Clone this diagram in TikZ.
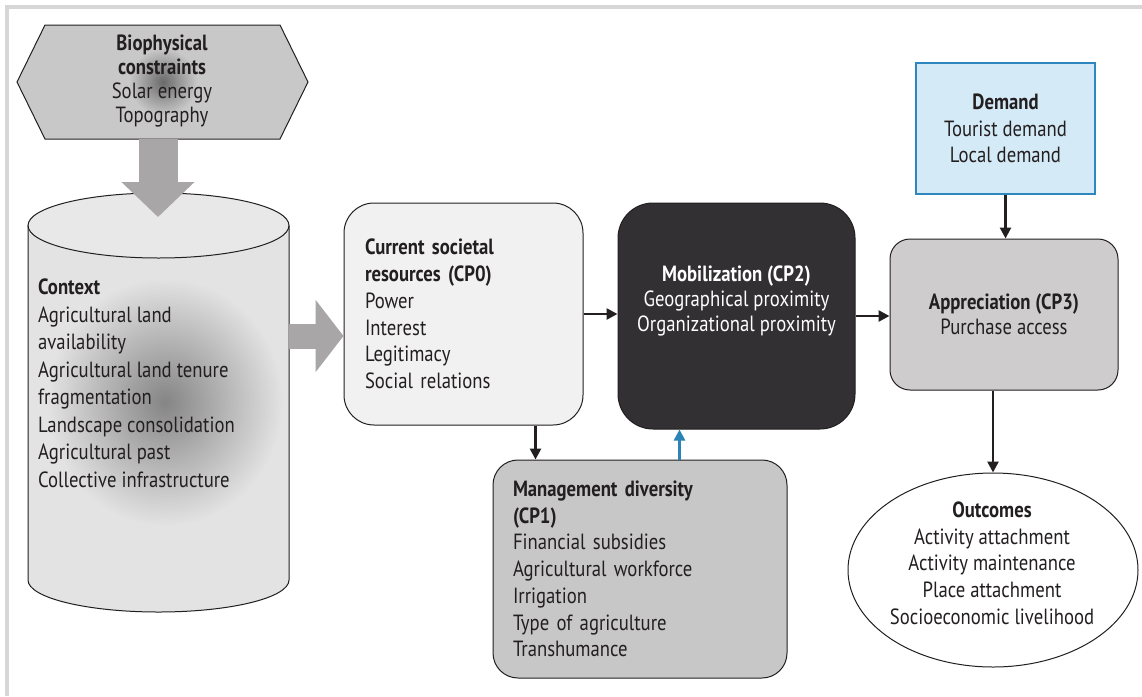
\documentclass[tikz,border=0pt]{standalone}
\usepackage{fontspec}
\setmainfont{PT Sans}[FakeStretch=0.85]
\usetikzlibrary{arrows.meta,shapes.geometric,calc}
\definecolor{framegray}{HTML}{D6D6D6}
\definecolor{hexfill}{HTML}{C9C8C9}
\definecolor{hexdark}{HTML}{6A6A6A}
\definecolor{blockarrow}{HTML}{A8A6A7}
\definecolor{cylfill}{HTML}{E3E3E3}
\definecolor{cyltop}{HTML}{E8E8E8}
\definecolor{cyldark}{HTML}{858585}
\definecolor{cpzero}{HTML}{F1F1F2}
\definecolor{mobfill}{HTML}{323032}
\definecolor{mgmtfill}{HTML}{C7C7C8}
\definecolor{appfill}{HTML}{CECCCD}
\definecolor{demfill}{HTML}{D4EAF7}
\definecolor{demline}{HTML}{2E87BE}
\definecolor{bluearrow}{HTML}{2B83B6}
\definecolor{ink}{HTML}{231F20}
\tikzset{
  txt/.style={font=\fontsize{22}{26.7}\selectfont, text=ink},
  boxnode/.style={txt, draw=ink, line width=1pt, align=left, inner ysep=0pt},
  arr/.style={draw=ink, line width=2.6pt, -{Triangle[length=11pt,width=11pt]}},
  bluearr/.style={draw=bluearrow, line width=2.6pt, -{Triangle[length=11pt,width=11pt]}},
  bigarrow/.style={draw=blockarrow},
}
\begin{document}
\begin{tikzpicture}[x=1pt,y=-1pt]
\useasboundingbox (0,0) rectangle (1142,696);
\fill[white] (0,0) rectangle (1142,696);
% frame
\draw[framegray, line width=4pt] (7,696) -- (7,7) -- (1142,7);

% hexagon
\fill[hexfill] (17,82) -- (45,25) -- (280,25) -- (308,82) -- (280,139) -- (45,139) -- cycle;
\begin{scope}
  \clip (17,82) -- (45,25) -- (280,25) -- (308,82) -- (280,139) -- (45,139) -- cycle;
  \shade[inner color=hexdark, outer color=hexfill] (163,82) circle (34pt);
\end{scope}
\draw[ink, line width=1pt] (17,82) -- (45,25) -- (280,25) -- (308,82) -- (280,139) -- (45,139) -- cycle;
\node[txt, align=center, font=\fontsize{22}{24}\selectfont, inner sep=0pt] (hex) at (162,81)
  {\textbf{Biophysical}\\\textbf{constraints}\\Solar energy\\Topography};
\coordinate (hexbot) at (158,139);

% cylinder
\fill[cylfill] (28,225.5) -- (28,580) arc[start angle=180, end angle=360, x radius=130.5pt, y radius=32pt]
   -- (289,225.5) arc[start angle=0, end angle=180, x radius=130.5pt, y radius=32.5pt] -- cycle;
\begin{scope}
  \clip (28,225.5) -- (28,580) arc[start angle=180, end angle=360, x radius=130.5pt, y radius=32pt]
   -- (289,225.5) -- cycle;
  \shade[inner color=cyldark, outer color=cylfill] (165,402) ellipse [x radius=118pt, y radius=124pt];
\end{scope}
\fill[cyltop] (158.5,225.5) ellipse [x radius=130.5pt, y radius=32.5pt];
\draw[ink, line width=1pt] (28,225.5) -- (28,580) arc[start angle=180, end angle=360, x radius=130.5pt, y radius=32pt]
   -- (289,225.5);
\draw[ink, line width=1pt] (158.5,225.5) ellipse [x radius=130.5pt, y radius=32.5pt];
\node[txt, align=left, anchor=north west, inner sep=0pt, font=\fontsize{22}{27.5}\selectfont] (ctx) at (38,279)
  {\textbf{Context}\\Agricultural land\\availability\\Agricultural land tenure\\fragmentation\\Landscape consolidation\\Agricultural past\\Collective infrastructure};
\coordinate (cyltip) at (158,217);
\coordinate (cylright) at (289,336);

% big block arrows
\draw[bigarrow, line width=39pt, -{Triangle[width=71pt,length=35pt]}] (hexbot) -- (cyltip);

% CP0
\node[boxnode, fill=cpzero, rounded corners=30pt, minimum width=239pt, minimum height=222pt,
      inner xsep=21pt, text width=197pt] (cp0) at (463.5,314)
  {\textbf{Current societal}\\\textbf{resources (CP0)}\\Power\\Interest\\Legitimacy\\Social relations};
\draw[bigarrow, line width=25pt, -{Triangle[width=71pt,length=28pt]}] (cylright) -- (cylright -| cp0.west);

% Mobilization
\node[draw=ink, line width=1pt, fill=mobfill, rounded corners=35pt, minimum width=237pt, minimum height=226pt] (mob) at (736.5,316) {};
\node[txt, text=white, align=center, inner sep=0pt, font=\fontsize{22}{25}\selectfont] (mobtext) at (736.5,301)
  {\textbf{Mobilization (CP2)}\\Geographical proximity\\Organizational proximity};

% Management
\node[boxnode, fill=mgmtfill, rounded corners=25pt, minimum width=294pt, minimum height=218pt,
      inner xsep=20pt, text width=254pt] (mgmt) at (640,569)
  {\textbf{Management diversity}\\\textbf{(CP1)}\\Financial subsidies\\Agricultural workforce\\Irrigation\\Type of agriculture\\Transhumance};

% Demand
\node[txt, draw=demline, line width=1.2pt, fill=demfill, align=center, minimum width=179pt, minimum height=131pt] (dem) at (1005.5,128.5)
  {\textbf{Demand}\\Tourist demand\\Local demand};

% Appreciation
\node[boxnode, fill=appfill, rounded corners=20pt, align=center, minimum width=228pt, minimum height=151pt,
      font=\fontsize{22}{25}\selectfont] (app) at (1004,314.5)
  {\textbf{Appreciation (CP3)}\\Purchase access};

% Outcomes
\node[draw=ink, line width=1pt, fill=white, ellipse, inner sep=0pt, minimum width=290pt, minimum height=194pt] (out) at (993,570) {};
\node[txt, align=center, inner sep=0pt] (outtext) at (992,563)
  {\textbf{Outcomes}\\Activity attachment\\Activity maintenance\\Place attachment\\Socioeconomic livelihood};

% connectors
\draw[arr] (cp0.east) -- (cp0.east -| mob.west);
\draw[arr] (mob.east) -- (mob.east -| app.west);
\draw[arr] ([xshift=-48pt]cp0.south east) -- ([xshift=-48pt]cp0.south east |- mgmt.north);
\draw[bluearr] ([xshift=62pt]mob.south west |- mgmt.north) -- ([xshift=62pt]mob.south west);
\draw[arr] (dem.south) -- (dem.south |- app.north);
\draw[arr] (out.north |- app.south) -- (out.north);
\end{tikzpicture}
\end{document}
